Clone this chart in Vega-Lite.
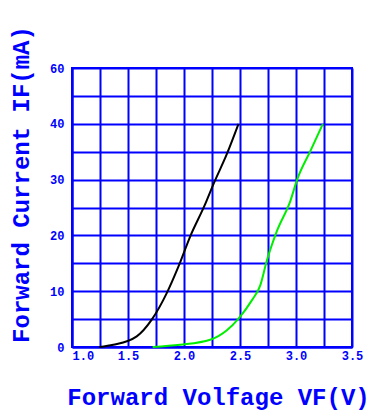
{
  "$schema": "https://vega.github.io/schema/vega-lite/v6.json",
  "autosize": "none",
  "width": 280,
  "height": 279,
  "padding": {"left": 72, "top": 68, "right": 17, "bottom": 65},
  "background": "white",
  "data": {"values": [
    {"s": "A", "v": 1.244, "i": 0},
    {"s": "A", "v": 1.369, "i": 0.4},
    {"s": "A", "v": 1.578, "i": 1.9},
    {"s": "A", "v": 1.712, "i": 4.9},
    {"s": "A", "v": 1.847, "i": 9.7},
    {"s": "A", "v": 1.95, "i": 14.4},
    {"s": "A", "v": 2.055, "i": 19.8},
    {"s": "A", "v": 2.189, "i": 25.6},
    {"s": "A", "v": 2.263, "i": 29.2},
    {"s": "A", "v": 2.383, "i": 34.6},
    {"s": "A", "v": 2.487, "i": 40.0},
    {"s": "B", "v": 1.72, "i": 0},
    {"s": "B", "v": 1.966, "i": 0.4},
    {"s": "B", "v": 2.234, "i": 1.3},
    {"s": "B", "v": 2.383, "i": 3.0},
    {"s": "B", "v": 2.487, "i": 5.1},
    {"s": "B", "v": 2.607, "i": 8.4},
    {"s": "B", "v": 2.68, "i": 11.0},
    {"s": "B", "v": 2.74, "i": 15.5},
    {"s": "B", "v": 2.83, "i": 20.8},
    {"s": "B", "v": 2.95, "i": 26.2},
    {"s": "B", "v": 3.01, "i": 30.0},
    {"s": "B", "v": 3.13, "i": 35.2},
    {"s": "B", "v": 3.24, "i": 40.0}
  ]},
  "mark": {"type": "line", "strokeWidth": 2, "interpolate": "monotone"},
  "encoding": {
    "x": {
      "field": "v", "type": "quantitative",
      "scale": {"domain": [1, 3.5], "nice": false, "zero": false},
      "axis": {
        "title": "Forward Volfage VF(V)",
        "values": [1, 1.25, 1.5, 1.75, 2, 2.25, 2.5, 2.75, 3, 3.25, 3.5],
        "labelExpr": "(datum.value * 2) % 1 == 0 ? format(datum.value, '.1f') : ''",
        "grid": true, "gridColor": "#0000ff", "gridWidth": 2, "gridOpacity": 1,
        "domainColor": "#0000ff", "domainWidth": 2,
        "ticks": false,
        "labelColor": "#0000ff", "labelFont": "Liberation Mono", "labelFontWeight": "bold", "labelFontSize": 12,
        "labelPadding": 3, "labelFlush": false,
        "labelAlign": {"condition": {"test": "datum.value == 1", "value": "left"}, "value": "center"},
        "titleColor": "#0000ff", "titleFont": "Liberation Mono", "titleFontWeight": "bold", "titleFontSize": 24,
        "titleX": 146, "titleY": 50, "titleAlign": "center", "titleBaseline": "middle"
      }
    },
    "y": {
      "field": "i", "type": "quantitative",
      "scale": {"domain": [0, 50], "nice": false},
      "axis": {
        "title": "Forward Current IF(mA)",
        "values": [0, 5, 10, 15, 20, 25, 30, 35, 40, 45, 50],
        "labelExpr": "datum.value % 10 == 0 ? (datum.value == 50 ? '60' : datum.label) : ''",
        "grid": true, "gridColor": "#0000ff", "gridWidth": 2, "gridOpacity": 1,
        "domainColor": "#0000ff", "domainWidth": 2,
        "ticks": false,
        "labelColor": "#0000ff", "labelFont": "Liberation Mono", "labelFontWeight": "bold", "labelFontSize": 12,
        "labelPadding": 8, "labelFlush": false,
        "titleColor": "#0000ff", "titleFont": "Liberation Mono", "titleFontWeight": "bold", "titleFontSize": 24,
        "titleAngle": 270, "titleX": -51, "titleY": 116, "titleAlign": "center", "titleBaseline": "middle"
      }
    },
    "color": {
      "field": "s", "type": "nominal",
      "scale": {"domain": ["A", "B"], "range": ["#000000", "#00ee00"]},
      "legend": null
    }
  },
  "config": {"view": {"stroke": "#0000ff", "strokeWidth": 2}}
}
